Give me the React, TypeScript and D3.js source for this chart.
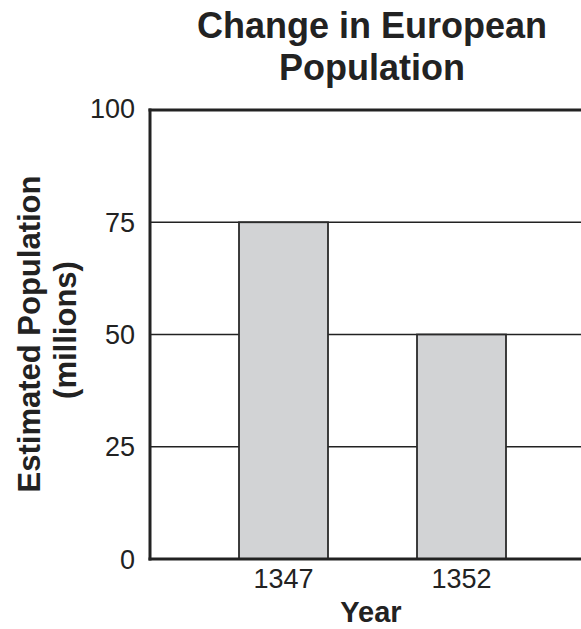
import * as d3 from 'd3'

const years: string[] = ['1347', '1352']
const population: number[] = [75, 50]
const yTicks: number[] = [0, 25, 50, 75, 100]
const gridTicks: number[] = [25, 50, 75]

const W = 581
const H = 629
const left = 150
const top = 110
const bottom = 559

const font = "'Liberation Sans', Arial, Helvetica, sans-serif"
const ink = '#222'

export default function App() {
    const y = d3.scaleLinear().domain([0, 100]).range([bottom, top])
    const x = d3.scaleBand<string>()
        .domain(years)
        .range([left, 595])
        .paddingInner(0.5)
        .paddingOuter(0.5)

    return (
        <svg width={W} height={H} style={{ position: 'absolute', left: 0, top: 0 }} fontFamily={font}>
            <rect width={W} height={H} fill="#fff" />

            {/* title */}
            <text x={372} y={38} textAnchor="middle" fontSize={36} fontWeight="bold" fill={ink}>Change in European</text>
            <text x={372} y={80} textAnchor="middle" fontSize={36} fontWeight="bold" fill={ink}>Population</text>

            {/* gridlines */}
            {gridTicks.map(t => (
                <line key={t} x1={left} x2={W} y1={y(t)} y2={y(t)} stroke={ink} strokeWidth={1.6} />
            ))}

            {/* bars */}
            {years.map((yr, i) => (
                <rect key={yr}
                    x={x(yr)} y={y(population[i])}
                    width={x.bandwidth()} height={y(0) - y(population[i])}
                    fill="#d2d3d5" stroke="#2a2a2a" strokeWidth={1.8} />
            ))}

            {/* frame */}
            <line x1={left - 1.5} x2={W} y1={y(100)} y2={y(100)} stroke={ink} strokeWidth={3} />
            <line x1={left - 1.5} x2={W} y1={y(0)} y2={y(0)} stroke={ink} strokeWidth={3} />
            <line x1={left} x2={left} y1={y(100) - 1.5} y2={y(0) + 1.5} stroke={ink} strokeWidth={3} />

            {/* y tick labels */}
            {yTicks.map(t => (
                <text key={t} x={135} y={y(t) + (t === 100 ? -2 : 0)} dy="0.36em" textAnchor="end" fontSize={27} fill={ink}>{t}</text>
            ))}

            {/* x tick labels */}
            {years.map(yr => (
                <text key={yr} x={(x(yr) ?? 0) + x.bandwidth() / 2} y={588} textAnchor="middle" fontSize={27} fill={ink}>{yr}</text>
            ))}

            <text x={371} y={622} textAnchor="middle" fontSize={29} fontWeight="bold" fill={ink}>Year</text>

            <g transform="translate(40, 334) rotate(-90)">
                <text x={0} y={0} textAnchor="middle" fontSize={31} fontWeight="bold" fill={ink}>Estimated Population</text>
            </g>
            <g transform="translate(76, 330) rotate(-90)">
                <text x={0} y={0} textAnchor="middle" fontSize={31} fontWeight="bold" fill={ink}>(millions)</text>
            </g>
        </svg>
    )
}
